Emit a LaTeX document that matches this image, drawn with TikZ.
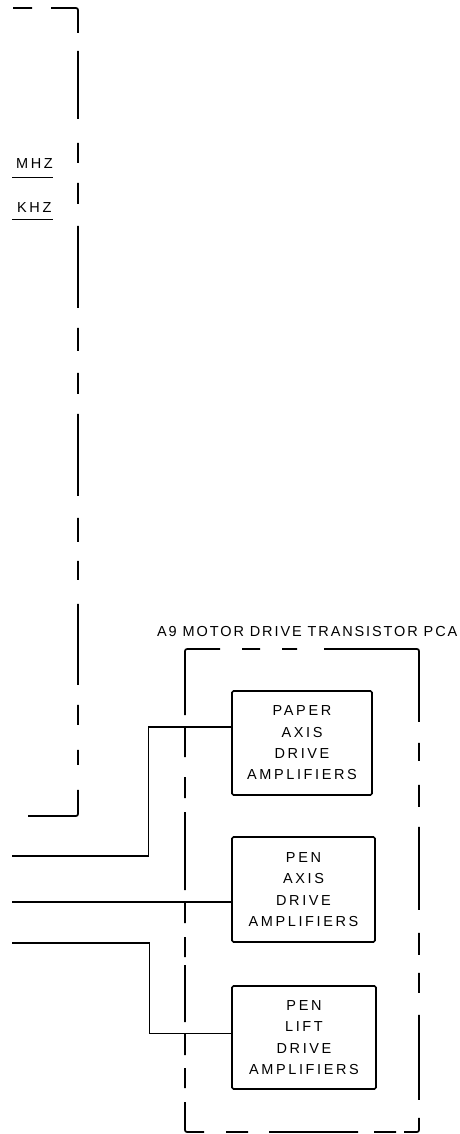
\documentclass[tikz,border=0pt]{standalone}
\usepackage{fontspec}
\setmainfont{Liberation Sans}
\newfontfamily\lblfont[LetterSpace=18]{Liberation Sans}
\newfontfamily\ttlfont[LetterSpace=13]{Liberation Sans}
\begin{document}
\begin{tikzpicture}[x=1pt,y=-1pt,
  amp/.style={draw, line width=1.6pt, rounded corners=1.5pt, font=\lblfont\fontsize{14.5pt}{21.3pt}\selectfont, align=center, inner sep=0pt},
  wire/.style={line width=1.3pt},
  frame/.style={line width=1.7pt, rounded corners=2pt},
  lbl/.style={font=\lblfont\fontsize{14.5pt}{16pt}\selectfont, anchor=base west, inner sep=0pt},
  ttl/.style={font=\ttlfont\fontsize{14.5pt}{16pt}\selectfont, anchor=base west, inner sep=0pt}]
\useasboundingbox (0,0) rectangle (460,1134);

% left dashed frame
\draw[frame, dash pattern=on 19pt off 19pt on 51pt off 18pt on 68pt off 24pt on 20pt off 20pt on 21pt off 22pt on 82pt off 20pt on 23pt off 22pt on 21pt off 20pt on 82pt off 22pt on 24pt off 19pt on 19pt off 24pt on 81pt off 20pt on 20pt off 25pt on 15pt off 25pt on 79pt off 50pt]
  (13,8) -- (78,8) -- (78,816) -- (28,816);

% frequency labels
\node[lbl] (mhz) at (16,169) {MHZ};
\node[lbl] (khz) at (17,212) {KHZ};
\draw[line width=1pt] (12,178) -- (53,178);
\draw[line width=1pt] (12,219) -- (53,219);

% A9 frame
\node[ttl] (title) at (157,636) {A9 MOTOR DRIVE TRANSISTOR PCA};
\draw[frame, dash pattern=on 33pt off 22pt on 18pt off 22pt on 15pt off 27pt on 167pt off 21pt on 18pt off 24pt on 22pt off 20pt on 83pt off 23pt on 22pt off 18pt on 20pt off 22pt on 85pt off 18pt on 28pt off 8pt on 22pt off 16pt on 89pt off 21pt on 22pt off 22pt on 48pt off 14pt on 20pt off 13pt on 22pt off 11pt on 57pt off 8pt on 20pt off 14pt on 21pt off 12pt on 78pt off 14pt on 21pt off 20pt on 30pt off 12pt on 71pt off 50pt]
  (185,649) -- (419,649) -- (419,1132) -- (185,1132) -- cycle;

% amplifier boxes
\node[amp, minimum width=140pt, minimum height=104pt] (paper) at (302,743) {PAPER\\AXIS\\DRIVE\\AMPLIFIERS};
\node[amp, minimum width=143pt, minimum height=105pt] (axis) at (303.5,889.5) {PEN\\AXIS\\DRIVE\\AMPLIFIERS};
\node[amp, minimum width=144pt, minimum height=103pt] (lift) at (304,1037.5) {PEN\\LIFT\\DRIVE\\AMPLIFIERS};

% wires
\coordinate (pin) at (12,856);
\coordinate (ain) at (12,902);
\coordinate (lin) at (12,943);
\draw[wire] (pin) -| ([xshift=-83pt,yshift=16pt]paper.west) -- ([yshift=16pt]paper.west);
\draw[wire] (ain) -- (ain -| axis.west);
\draw[wire] (lin) -| ([xshift=-82pt,yshift=4pt]lift.west) -- ([yshift=4pt]lift.west);
\end{tikzpicture}
\end{document}
